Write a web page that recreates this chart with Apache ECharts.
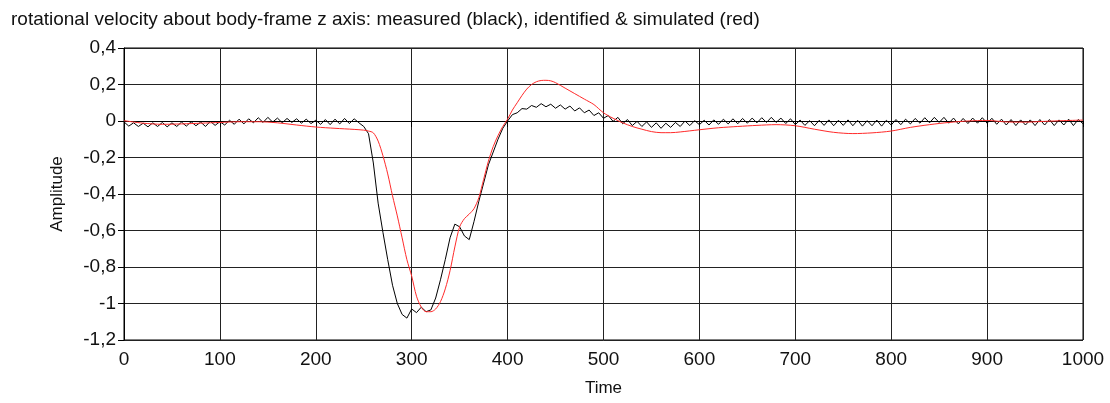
<!DOCTYPE html>
<html>
<head>
<meta charset="utf-8">
<script src="https://cdn.jsdelivr.net/npm/echarts@6/dist/echarts.min.js"></script>
<style>
  html, body { margin: 0; padding: 0; background: #fff; }
  #chart { width: 1110px; height: 403px; }
</style>
</head>
<body>
<div id="chart"></div>
<script>
// measured (black), sampled every 5 time units from 0 to 1000
const measuredStep = 5;
const measured = [
  -0.005, -0.028, -0.01, -0.03, -0.012, -0.032, -0.01, -0.03, -0.008, -0.032,
  -0.01, -0.03, -0.006, -0.028, -0.004, -0.026, -0.006, -0.03, -0.002, -0.024,
  -0.004, -0.022, 0.004, -0.018, 0.01, -0.016, 0.012, -0.01, 0.018, -0.008,
  0.02, -0.006, 0.016, -0.01, 0.014, -0.008, 0.012, -0.012, 0.01, -0.014,
  0.004, -0.018, 0.008, -0.02, 0.01, -0.016, 0.014, -0.014, 0.012, -0.01,
  -0.03, -0.07, -0.23, -0.45, -0.61, -0.76, -0.9, -1.0, -1.06, -1.08,
  -1.03, -1.05, -1.02, -1.045, -1.035, -0.97, -0.87, -0.76, -0.64, -0.565,
  -0.58, -0.63, -0.65, -0.55, -0.44, -0.34, -0.24, -0.17, -0.1, -0.04,
  0.0, 0.035, 0.045, 0.068, 0.065, 0.085, 0.075, 0.095, 0.078, 0.092,
  0.07, 0.088, 0.065, 0.082, 0.055, 0.072, 0.045, 0.06, 0.03, 0.045,
  0.015, 0.03, -0.002, 0.02, -0.015, 0.008, -0.025, -0.002, -0.03, -0.005,
  -0.035, -0.01, -0.04, -0.012, -0.035, -0.008, -0.03, 0.0, -0.025, 0.002,
  -0.02, 0.004, -0.022, 0.006, -0.018, 0.01, -0.016, 0.012, -0.015, 0.014,
  -0.012, 0.016, -0.01, 0.018, -0.008, 0.02, -0.008, 0.016, -0.014, 0.012,
  -0.02, 0.005, -0.024, 0.002, -0.026, 0.004, -0.024, 0.006, -0.026, 0.004,
  -0.024, 0.006, -0.026, 0.004, -0.028, 0.002, -0.026, 0.005, -0.028, 0.004,
  -0.022, 0.008, -0.02, 0.01, -0.016, 0.014, -0.012, 0.018, -0.01, 0.02,
  -0.008, 0.02, -0.012, 0.016, -0.016, 0.014, -0.014, 0.016, -0.012, 0.018,
  -0.012, 0.015, -0.018, 0.01, -0.022, 0.008, -0.025, 0.006, -0.022, 0.006,
  -0.025, 0.008, -0.022, 0.008, -0.025, 0.006, -0.022, 0.01, -0.025, 0.008,
  -0.015
];

// identified & simulated (red)
const simTime = [
  0, 20, 40, 60, 80, 100, 120, 140, 160, 180, 200, 220, 240, 250, 255,
  260, 265, 270, 275, 280, 285, 290, 295, 300, 305, 310, 315, 320, 325, 330,
  335, 340, 345, 350, 355, 360, 365, 370, 375, 380, 385, 390, 395, 400, 405,
  410, 415, 420, 425, 430, 435, 440, 445, 450, 460, 470, 480, 490, 500, 510,
  520, 530, 540, 550, 560, 570, 580, 600, 620, 640, 660, 680, 700, 720, 740,
  760, 780, 800, 820, 840, 860, 880, 900, 920, 940, 960, 980, 1000
];
const simulated = [
  0.002, -0.012, -0.018, -0.016, -0.012, -0.008, -0.004, -0.004, -0.01, -0.022, -0.033, -0.04, -0.046, -0.05, -0.055,
  -0.065, -0.11, -0.19, -0.29, -0.41, -0.52, -0.64, -0.76, -0.85, -0.96, -1.02, -1.045, -1.045, -1.03, -0.99,
  -0.92, -0.82, -0.69, -0.58, -0.535, -0.51, -0.48, -0.42, -0.32, -0.22, -0.14, -0.08, -0.03, 0.01, 0.06,
  0.1, 0.14, 0.175, 0.2, 0.215, 0.222, 0.223, 0.22, 0.21, 0.18, 0.15, 0.12, 0.09, 0.045, 0.015,
  -0.01, -0.03, -0.045, -0.058, -0.064, -0.064, -0.06, -0.048, -0.037, -0.03, -0.024, -0.02, -0.026, -0.045, -0.062,
  -0.069, -0.065, -0.055, -0.035, -0.02, -0.008, 0.0, 0.003, -0.005, -0.006, -0.002, 0.002, 0.005
];

const titleText = 'rotational velocity about body-frame z axis: measured (black), identified & simulated (red)';
const font = '"Liberation Sans", Arial, sans-serif';

const chart = echarts.init(document.getElementById('chart'));
chart.setOption({
  animation: false,
  backgroundColor: '#fff',
  title: {
    text: titleText,
    left: 6,
    top: 5,
    textStyle: { fontFamily: font, fontSize: 19, fontWeight: 'normal', color: '#111' }
  },
  grid: {
    left: 124, right: 27, top: 48, bottom: 63,
    show: true, borderColor: '#000', borderWidth: 1
  },
  xAxis: {
    type: 'value',
    min: 0, max: 1000, interval: 100,
    name: 'Time',
    nameLocation: 'middle',
    nameGap: 40,
    nameTextStyle: { fontFamily: font, fontSize: 17, color: '#111' },
    axisLine: { lineStyle: { color: '#000', width: 1 } },
    axisTick: { show: true, length: 6, lineStyle: { color: '#000' } },
    axisLabel: {
      fontFamily: font, fontSize: 19, color: '#111', margin: 10,
      formatter: v => String(v)
    },
    splitLine: { show: true, lineStyle: { color: '#222', width: 1 } }
  },
  yAxis: {
    type: 'value',
    min: -1.2, max: 0.4, interval: 0.2,
    name: 'Amplitude',
    nameLocation: 'middle',
    nameGap: 58,
    nameTextStyle: { fontFamily: font, fontSize: 17, color: '#111' },
    axisLine: { show: true, lineStyle: { color: '#000', width: 1 } },
    axisTick: { show: true, length: 6, lineStyle: { color: '#000' } },
    axisLabel: {
      fontFamily: font, fontSize: 19, color: '#111', margin: 8,
      formatter: v => String(+v.toFixed(1)).replace('.', ',')
    },
    splitLine: { show: true, lineStyle: { color: '#222', width: 1 } }
  },
  series: [
    {
      name: 'measured',
      type: 'line',
      showSymbol: false,
      data: measured.map((v, i) => [i * measuredStep, v]),
      lineStyle: { color: '#000', width: 1 }
    },
    {
      name: 'simulated',
      type: 'line',
      showSymbol: false,
      smooth: 0.3,
      data: simulated.map((v, i) => [simTime[i], v]),
      lineStyle: { color: '#ff2a2a', width: 1 }
    }
  ]
});
</script>
</body>
</html>
